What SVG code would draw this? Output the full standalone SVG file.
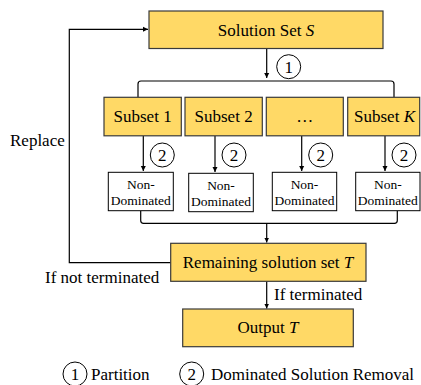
<svg xmlns="http://www.w3.org/2000/svg" width="421" height="385" viewBox="0 0 421 385">
<defs>
<marker id="ah" markerWidth="6" markerHeight="6" refX="5" refY="3" orient="auto" markerUnits="userSpaceOnUse">
<path d="M0,0.5 L5,3 L0,5.5 Z" fill="#000"/>
</marker>
<style>
.y{fill:#FFD966;stroke:#3a3a3a;stroke-width:1.2}
.w{fill:#fff;stroke:#000;stroke-width:1}
.c{fill:none;stroke:#000;stroke-width:1}
.ln{fill:none;stroke:#000;stroke-width:1.2}
</style>
</defs>
<rect width="421" height="385" fill="#fff"/>
<g id="connectors">
<path class="ln" d="M266.7,48.5 V78" marker-end="url(#ah)"/>
<path class="ln" d="M138,97 V84 Q138,81 141,81 H391 Q394,81 394,84 V97"/>
<path class="ln" d="M143.3,136 V171" marker-end="url(#ah)"/>
<path class="ln" d="M215,136 V172" marker-end="url(#ah)"/>
<path class="ln" d="M301.7,136 V171" marker-end="url(#ah)"/>
<path class="ln" d="M385,136 V171" marker-end="url(#ah)"/>
<path class="ln" d="M140.7,211 V220.5 Q140.7,223.3 143.5,223.3 H394.5 Q397.3,223.3 397.3,220.5 V211"/>
<path class="ln" d="M266.7,223.3 V242.5" marker-end="url(#ah)"/>
<path class="ln" d="M170.7,262.7 H69.3 V29.3 H148" marker-end="url(#ah)"/>
<path class="ln" d="M266.7,281.3 V308.5" marker-end="url(#ah)"/>
<text font-family="Liberation Serif, serif" font-size="17" x="10" y="146">Replace</text>
<text font-family="Liberation Serif, serif" font-size="17" x="45" y="282.7">If not terminated</text>
<text font-family="Liberation Serif, serif" font-size="17" x="274" y="300">If terminated</text>
</g>
<g id="solution-set">
<rect class="y" x="149" y="11" width="234" height="37.5"/>
<text font-family="Liberation Serif, serif" font-size="17" x="266" y="35.5" text-anchor="middle">Solution Set <tspan font-style="italic">S</tspan></text>
</g>
<g id="label-1">
<circle class="c" cx="288.7" cy="66.7" r="12"/>
<text font-family="Liberation Serif, serif" font-size="17" x="288.7" y="72.5" text-anchor="middle">1</text>
</g>
<g id="subset-1">
<rect class="y" x="104" y="97.3" width="77.3" height="38.5"/>
<text font-family="Liberation Serif, serif" font-size="17" x="142.6" y="122" text-anchor="middle">Subset 1</text>
</g>
<g id="subset-2">
<rect class="y" x="185" y="97.3" width="77.3" height="38.5"/>
<text font-family="Liberation Serif, serif" font-size="17" x="223.6" y="122" text-anchor="middle">Subset 2</text>
</g>
<g id="subset-dots">
<rect class="y" x="266.3" y="97.3" width="77" height="38.5"/>
<text font-family="Liberation Serif, serif" font-size="17" x="304.8" y="122" text-anchor="middle">…</text>
</g>
<g id="subset-k">
<rect class="y" x="347.7" y="97.3" width="72" height="38.5"/>
<text font-family="Liberation Serif, serif" font-size="17" x="384.5" y="122" text-anchor="middle">Subset <tspan font-style="italic">K</tspan></text>
</g>
<g id="labels-2">
<circle class="c" cx="162.3" cy="155" r="12"/>
<text font-family="Liberation Serif, serif" font-size="17" x="162.3" y="161" text-anchor="middle">2</text>
<circle class="c" cx="234" cy="155" r="12"/>
<text font-family="Liberation Serif, serif" font-size="17" x="234" y="161" text-anchor="middle">2</text>
<circle class="c" cx="320.7" cy="155" r="12"/>
<text font-family="Liberation Serif, serif" font-size="17" x="320.7" y="161" text-anchor="middle">2</text>
<circle class="c" cx="404" cy="155" r="12"/>
<text font-family="Liberation Serif, serif" font-size="17" x="404" y="161" text-anchor="middle">2</text>
</g>
<g id="nd-1">
<rect class="w" x="108.3" y="172.3" width="65" height="38.4"/>
<text font-family="Liberation Serif, serif" font-size="13.5" x="140.8" y="188.5" text-anchor="middle">Non-</text>
<text font-family="Liberation Serif, serif" font-size="13.5" x="140.8" y="204.5" text-anchor="middle">Dominated</text>
</g>
<g id="nd-2">
<rect class="w" x="188.7" y="173.3" width="64.6" height="38.4"/>
<text font-family="Liberation Serif, serif" font-size="13.5" x="221" y="190" text-anchor="middle">Non-</text>
<text font-family="Liberation Serif, serif" font-size="13.5" x="221" y="206" text-anchor="middle">Dominated</text>
</g>
<g id="nd-3">
<rect class="w" x="272.3" y="172.3" width="64.4" height="38.4"/>
<text font-family="Liberation Serif, serif" font-size="13.5" x="304.5" y="188.5" text-anchor="middle">Non-</text>
<text font-family="Liberation Serif, serif" font-size="13.5" x="304.5" y="204.5" text-anchor="middle">Dominated</text>
</g>
<g id="nd-4">
<rect class="w" x="355.7" y="172.3" width="64.3" height="38.4"/>
<text font-family="Liberation Serif, serif" font-size="13.5" x="387.8" y="188.5" text-anchor="middle">Non-</text>
<text font-family="Liberation Serif, serif" font-size="13.5" x="387.8" y="204.5" text-anchor="middle">Dominated</text>
</g>
<g id="remaining">
<rect class="y" x="170.7" y="243.3" width="195.3" height="38"/>
<text font-family="Liberation Serif, serif" font-size="17" x="268" y="268.3" text-anchor="middle">Remaining solution set <tspan font-style="italic">T</tspan></text>
</g>
<g id="output">
<rect class="y" x="182.7" y="309" width="170.6" height="37.7"/>
<text font-family="Liberation Serif, serif" font-size="17" x="268" y="333.3" text-anchor="middle">Output <tspan font-style="italic">T</tspan></text>
</g>
<g id="legend">
<circle class="c" cx="75" cy="374" r="12"/>
<text font-family="Liberation Serif, serif" font-size="17" x="75" y="380" text-anchor="middle">1</text>
<text font-family="Liberation Serif, serif" font-size="17" x="91" y="379.5">Partition</text>
<circle class="c" cx="191.7" cy="374" r="12"/>
<text font-family="Liberation Serif, serif" font-size="17" x="191.7" y="380" text-anchor="middle">2</text>
<text font-family="Liberation Serif, serif" font-size="17" x="211" y="379.5">Dominated Solution Removal</text>
</g>
</svg>
